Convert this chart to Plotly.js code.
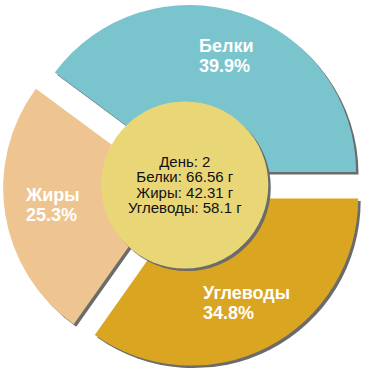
<!DOCTYPE html>
<html>
<head>
<meta charset="utf-8">
<script src="https://cdn.plot.ly/plotly-3.0.1.min.js"></script>
<style>html,body{margin:0;padding:0;background:#fff;}#chart{width:370px;height:370px;}</style>
</head>
<body>
<div id="chart"></div>
<script>
// ---- data ----
const categories = ['Белки', 'Жиры', 'Углеводы'];
const grams = [66.56, 42.31, 58.1];
const sliceColors = ['#7AC5CD', '#EEC591', '#DAA520'];
const dayLabel = 'День: 2';
const unitLabel = 'г';

// ---- layout constants (pixels) ----
const W = 370, H = 370;
const pieCx = 184.5, pieCy = 185.7, pieR = 167, pullFrac = 0.087;
const circleCx = 184.8, circleCy = 185, circleR = 83.5;
const shadowDx = 2.5, shadowDy = 2.5;
const shadowColor = '#6b6b6b';
const circleColor = '#E9D677';
const labelRadius = 134, labelCy = 183.5;
const FONT = 'Liberation Sans, Arial, sans-serif';

const fx = px => px / W;
const fy = py => 1 - py / H;

function domainFor(cx, cy, half) {
  return { x: [fx(cx - half), fx(cx + half)], y: [fy(cy + half), fy(cy - half)] };
}

const total = grams.reduce((a, b) => a + b, 0);
// clockwise from 3 o'clock the slices appear in reverse of the listed order
const revLabels = categories.slice().reverse();
const revValues = grams.slice().reverse();
const revColors = sliceColors.slice().reverse();
const pieHalf = pieR * (1 + pullFrac);

function pieTrace(cx, cy, colors) {
  return {
    type: 'pie', labels: revLabels, values: revValues, sort: false,
    direction: 'clockwise', rotation: 90,
    pull: revValues.map(() => pullFrac),
    marker: { colors: colors, line: { width: 0 } },
    textinfo: 'none', hoverinfo: 'none', showlegend: false,
    domain: domainFor(cx, cy, pieHalf)
  };
}
function discTrace(cx, cy, color) {
  return {
    type: 'pie', labels: ['disc'], values: [1], sort: false,
    marker: { colors: [color], line: { width: 0 } },
    textinfo: 'none', hoverinfo: 'none', showlegend: false,
    domain: domainFor(cx, cy, circleR)
  };
}

const traces = [
  pieTrace(pieCx + shadowDx, pieCy + shadowDy, revValues.map(() => shadowColor)),
  pieTrace(pieCx, pieCy, revColors),
  discTrace(circleCx + shadowDx, circleCy + shadowDy, shadowColor),
  discTrace(circleCx, circleCy, circleColor)
];

// slice labels at each slice's mid angle (counter-clockwise from 3 o'clock in listed order)
const annotations = [];
let cum = 0;
categories.forEach((name, i) => {
  const frac = grams[i] / total;
  const mid = (cum + frac / 2) * 2 * Math.PI;
  cum += frac;
  const x = pieCx + labelRadius * Math.cos(mid);
  const y = labelCy - labelRadius * Math.sin(mid);
  const pct = (frac * 100).toFixed(1) + '%';
  annotations.push({
    x: fx(x), y: fy(y), xref: 'paper', yref: 'paper',
    xanchor: 'center', yanchor: 'middle', align: 'left', showarrow: false,
    font: { family: FONT, size: 15.2, color: '#ffffff', weight: 'bold' },
    text: '<span style="font-size:18px"><b>' + name + '</b></span><br>' +
          '<span style="font-size:18px"><b>' + pct + '</b></span>'
  });
});

// centre text
const centerLines = [dayLabel].concat(categories.map((c, i) => c + ': ' + grams[i] + ' ' + unitLabel));
annotations.push({
  x: fx(circleCx), y: fy(circleCy - 1), xref: 'paper', yref: 'paper',
  xanchor: 'center', yanchor: 'middle', align: 'center', showarrow: false,
  font: { family: FONT, size: 11.8, color: '#111111' },
  text: centerLines.map(t => '<span style="font-size:15px">' + t + '</span>').join('<br>')
});

const layout = {
  width: W, height: H,
  margin: { l: 0, r: 0, t: 0, b: 0, pad: 0 },
  paper_bgcolor: '#ffffff', plot_bgcolor: '#ffffff',
  showlegend: false,
  annotations: annotations
};

Plotly.newPlot('chart', traces, layout, { displayModeBar: false, staticPlot: true });
</script>
</body>
</html>
